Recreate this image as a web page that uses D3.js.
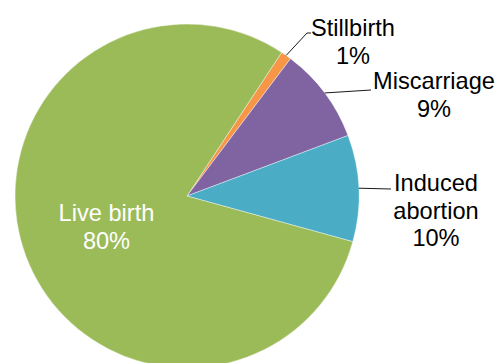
<!DOCTYPE html>
<html>
<head>
<meta charset="utf-8">
<script src="https://cdn.jsdelivr.net/npm/d3@7"></script>
<style>
  html, body { margin: 0; padding: 0; background: #fff; }
  svg { display: block; }
  text { font-family: "Liberation Sans", Arial, sans-serif; }
</style>
</head>
<body>
<svg id="chart" width="498" height="363"></svg>
<script>
// Pregnancy outcomes, share of all pregnancies (%)
const categories = ["Stillbirth", "Miscarriage", "Induced abortion", "Live birth"];
const values = [1, 9, 10, 80];
const colors = ["#F79646", "#8064A2", "#4BACC6", "#9BBB59"];

// Label placement: line-broken text, where each label sits, and the elbow of its leader line
const labelLines = [["Stillbirth"], ["Miscarriage"], ["Induced", "abortion"], ["Live birth"]];
const labelPos = [
  { x: 353, y: 36, elbow: [[307, 33], [311, 33]] },
  { x: 434, y: 89, elbow: [[371, 90]] },
  { x: 436, y: 191, elbow: [[391, 189]] },
  null // drawn inside the slice
];

const W = 498, H = 363;
const cx = 187, cy = 196, R = 172;
const fontSize = 23.6, lineH = 27.5;
const startDeg = 33.4;

const svg = d3.select("#chart");
const g = svg.append("g").attr("transform", `translate(${cx},${cy})`);

const pie = d3.pie()
  .sort(null)
  .value(d => d.value)
  .startAngle(startDeg * Math.PI / 180)
  .endAngle(startDeg * Math.PI / 180 + 2 * Math.PI);

const data = categories.map((c, i) => ({ name: c, value: values[i], i }));
const arcs = pie(data);
const arc = d3.arc().innerRadius(0).outerRadius(R);

g.selectAll("path.slice")
  .data(arcs)
  .join("path")
  .attr("class", "slice")
  .attr("d", arc)
  .attr("fill", d => colors[d.data.i])
  .attr("stroke", "#ffffff")
  .attr("stroke-width", 0.4);

const total = d3.sum(values);
const pct = v => Math.round(v / total * 100) + "%";

arcs.forEach(a => {
  const i = a.data.i;
  const mid = (a.startAngle + a.endAngle) / 2;
  const lines = labelLines[i].concat([pct(a.data.value)]);
  const pos = labelPos[i];
  if (pos) {
    // leader line from the slice edge to the label
    const p0 = [cx + R * Math.sin(mid), cy - R * Math.cos(mid)];
    const pts = [p0].concat(pos.elbow);
    svg.append("path")
      .attr("d", d3.line()(pts))
      .attr("fill", "none")
      .attr("stroke", "#1a1a1a")
      .attr("stroke-width", 1);
    const t = svg.append("text")
      .attr("x", pos.x).attr("y", pos.y)
      .attr("text-anchor", "middle")
      .attr("font-size", fontSize)
      .attr("fill", "#000");
    lines.forEach((l, k) => t.append("tspan").attr("x", pos.x).attr("dy", k === 0 ? 0 : lineH).text(l));
  } else {
    const r = R * 0.5;
    const px = cx + r * Math.sin(mid), py = cy - r * Math.cos(mid);
    const y0 = py - (lines.length - 1) * lineH / 2 + fontSize * 0.36;
    const t = svg.append("text")
      .attr("x", px).attr("y", y0)
      .attr("text-anchor", "middle")
      .attr("font-size", fontSize)
      .attr("fill", "#fff");
    lines.forEach((l, k) => t.append("tspan").attr("x", px).attr("dy", k === 0 ? 0 : lineH).text(l));
  }
});
</script>
</body>
</html>
